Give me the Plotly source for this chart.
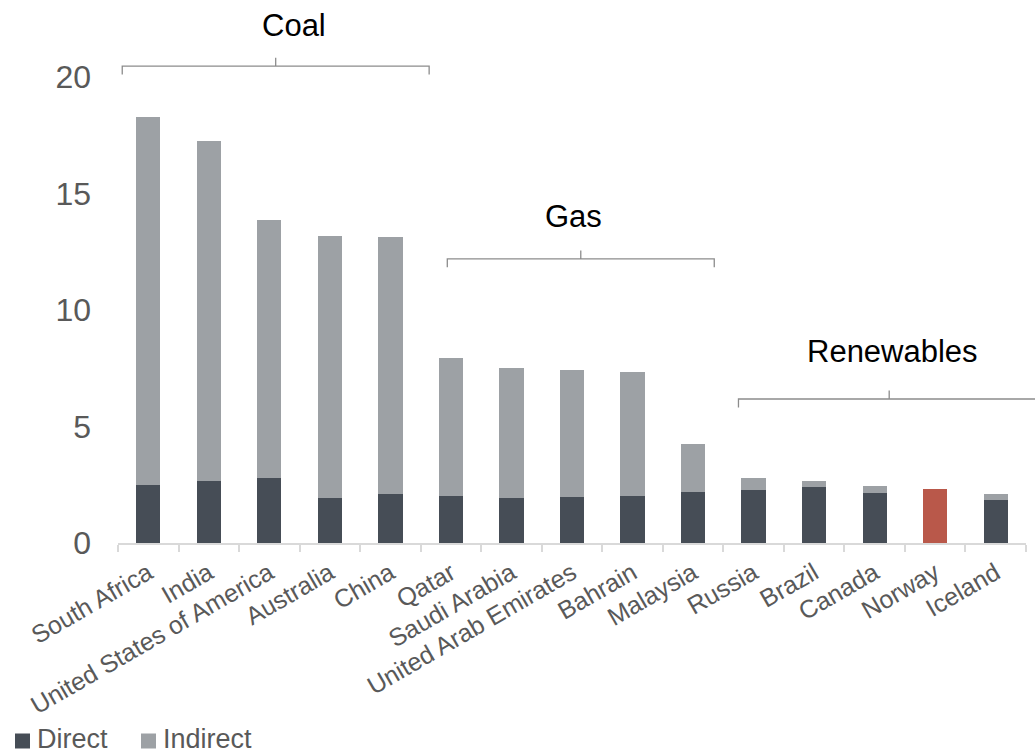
import plotly.graph_objects as go

countries = ["South Africa", "India", "United States of America", "Australia", "China",
             "Qatar", "Saudi Arabia", "United Arab Emirates", "Bahrain", "Malaysia",
             "Russia", "Brazil", "Canada", "Norway", "Iceland"]
direct = [2.5, 2.65, 2.8, 1.93, 2.12, 2.02, 1.93, 1.97, 2.02, 2.19, 2.27, 2.4, 2.15, 2.32, 1.85]
indirect = [15.78, 14.6, 11.06, 11.25, 11.01, 5.92, 5.58, 5.45, 5.32, 2.05, 0.52, 0.26, 0.28, 0.0, 0.27]

# energy-source groups: label, bracket span in category units
groups = [("Coal", -0.43, 4.64), ("Gas", 4.94, 9.35), ("Renewables", 9.75, 14.73)]

DARK = "#464d56"
LIGHT = "#9da1a5"
HIGHLIGHT = "#b9584a"
FONT = "Liberation Sans, Arial, sans-serif"

series = [("Direct", DARK), ("Indirect", LIGHT)]

direct_colors = [HIGHLIGHT if c == "Norway" else DARK for c in countries]

fig = go.Figure()
fig.add_trace(go.Bar(x=countries, y=direct, name="Direct", showlegend=False,
                     marker=dict(color=direct_colors, line=dict(width=0))))
fig.add_trace(go.Bar(x=countries, y=indirect, name="Indirect", showlegend=False,
                     marker=dict(color=LIGHT, line=dict(width=0))))

W, H = 1035, 756
ML, MR, MT, MB = 118, 9, 77, 213
PW, PH = W - ML - MR, H - MT - MB

n = len(countries)
xr = (-0.5, n - 0.5)
yr = (0, 20)


def px(v):
    return (v - xr[0]) / (xr[1] - xr[0])


def py(v):
    return (v - yr[0]) / (yr[1] - yr[0])


# bracket heights above each group (data units) and label positions
bracket_y = {"Coal": 20.47, "Gas": 12.19, "Renewables": 6.18}
label_pos = {"Coal": (2.41, 22.2), "Gas": (7.02, 14.0), "Renewables": (12.29, 8.2)}

shapes = []
annotations = []
for name, a, b in groups:
    x0 = px(a)
    x1 = px(b)
    xc = (x0 + x1) / 2
    yb = py(bracket_y[name])
    d = py(0.36)
    path = (f"M{x0},{yb - d} L{x0},{yb} L{x1},{yb} L{x1},{yb - d} "
            f"M{xc},{yb} L{xc},{yb + d}")
    shapes.append(dict(type="path", path=path, xref="paper", yref="paper",
                       line=dict(color="#8c8c8c", width=1.3)))
    lx, ly = label_pos[name]
    annotations.append(dict(text=name, x=px(lx), y=py(ly), xref="paper", yref="paper",
                            showarrow=False, xanchor="center", yanchor="middle",
                            font=dict(family=FONT, size=31, color="#000000")))

# legend along the bottom-left corner: square swatch followed by the series name
legend_left = [15, 141]       # swatch left edge, px from page left
legend_mid = 739              # vertical centre, px from page top
swatch = 15
for (name, color), left in zip(series, legend_left):
    shapes.append(dict(type="rect", xref="paper", yref="paper",
                       x0=(left - ML) / PW, x1=(left + swatch - ML) / PW,
                       y0=(MT + PH - legend_mid - swatch / 2 - 2) / PH,
                       y1=(MT + PH - legend_mid + swatch / 2 - 2) / PH,
                       fillcolor=color, line=dict(width=0)))
    annotations.append(dict(text=name, xref="paper", yref="paper",
                            x=(left + swatch + 6 - ML) / PW,
                            y=(MT + PH - legend_mid) / PH,
                            xanchor="left", yanchor="middle", showarrow=False,
                            borderpad=0,
                            font=dict(family=FONT, size=27, color="#595959")))

fig.update_layout(
    barmode="stack",
    bargap=0.6,
    width=W,
    height=H,
    margin=dict(l=ML, r=MR, t=MT, b=MB, autoexpand=False),
    plot_bgcolor="white",
    paper_bgcolor="white",
    font=dict(family=FONT, color="#595959"),
    shapes=shapes,
    annotations=annotations,
    hovermode=False,
    showlegend=False,
    xaxis=dict(range=list(xr), showline=True, linecolor="#d9d9d9", linewidth=1.5,
               ticks="outside", tickson="boundaries", ticklen=7, tickcolor="#d9d9d9",
               tickwidth=1.5, tickangle=-30, showgrid=False, automargin=False,
               ticklabelstandoff=4,
               tickfont=dict(family=FONT, size=25, color="#595959")),
    yaxis=dict(range=list(yr), tickvals=[0, 5, 10, 15, 20], showgrid=False,
               zeroline=False, showline=False, ticks="", ticklabelstandoff=26,
               automargin=False,
               tickfont=dict(family=FONT, size=32, color="#595959")),
)

fig.write_html("out.html")
